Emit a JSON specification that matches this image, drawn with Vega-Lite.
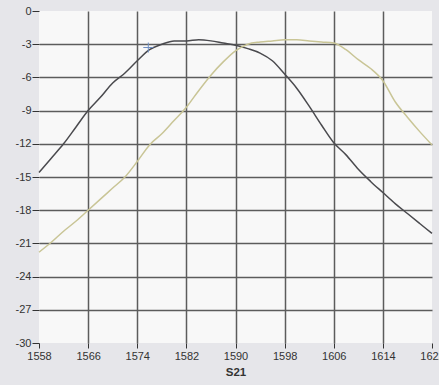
{
  "$schema": "https://vega.github.io/schema/vega-lite/v6.json",
  "width": 393,
  "height": 332,
  "autosize": "none",
  "padding": {"left": 39, "top": 11, "right": 7, "bottom": 42},
  "background": "#e6e6ea",
  "config": {"view": {"fill": "#f8f8f8", "stroke": null}, "font": "Liberation Sans"},
  "datasets": {
    "curves": [
      {"wl": 1558, "db": -14.6, "s": "A"}, {"wl": 1560, "db": -13.3, "s": "A"}, {"wl": 1562, "db": -12.0, "s": "A"},
      {"wl": 1564, "db": -10.5, "s": "A"}, {"wl": 1566, "db": -9.0, "s": "A"}, {"wl": 1568, "db": -7.8, "s": "A"},
      {"wl": 1570, "db": -6.5, "s": "A"}, {"wl": 1572, "db": -5.6, "s": "A"}, {"wl": 1574, "db": -4.5, "s": "A"},
      {"wl": 1576, "db": -3.5, "s": "A"}, {"wl": 1578, "db": -3.0, "s": "A"}, {"wl": 1580, "db": -2.7, "s": "A"},
      {"wl": 1582, "db": -2.7, "s": "A"}, {"wl": 1584, "db": -2.6, "s": "A"}, {"wl": 1586, "db": -2.7, "s": "A"},
      {"wl": 1588, "db": -2.9, "s": "A"}, {"wl": 1590, "db": -3.1, "s": "A"}, {"wl": 1592, "db": -3.4, "s": "A"},
      {"wl": 1594, "db": -3.8, "s": "A"}, {"wl": 1596, "db": -4.5, "s": "A"}, {"wl": 1598, "db": -5.7, "s": "A"},
      {"wl": 1600, "db": -7.0, "s": "A"}, {"wl": 1602, "db": -8.6, "s": "A"}, {"wl": 1604, "db": -10.3, "s": "A"},
      {"wl": 1606, "db": -11.9, "s": "A"}, {"wl": 1608, "db": -13.0, "s": "A"}, {"wl": 1610, "db": -14.3, "s": "A"},
      {"wl": 1612, "db": -15.4, "s": "A"}, {"wl": 1614, "db": -16.4, "s": "A"}, {"wl": 1616, "db": -17.4, "s": "A"},
      {"wl": 1618, "db": -18.3, "s": "A"}, {"wl": 1620, "db": -19.2, "s": "A"}, {"wl": 1622, "db": -20.1, "s": "A"},
      {"wl": 1558, "db": -21.8, "s": "B"}, {"wl": 1560, "db": -20.9, "s": "B"}, {"wl": 1562, "db": -19.9, "s": "B"},
      {"wl": 1564, "db": -19.0, "s": "B"}, {"wl": 1566, "db": -18.0, "s": "B"}, {"wl": 1568, "db": -17.0, "s": "B"},
      {"wl": 1570, "db": -16.0, "s": "B"}, {"wl": 1572, "db": -15.0, "s": "B"}, {"wl": 1574, "db": -13.6, "s": "B"},
      {"wl": 1576, "db": -12.1, "s": "B"}, {"wl": 1578, "db": -11.1, "s": "B"}, {"wl": 1580, "db": -9.9, "s": "B"},
      {"wl": 1582, "db": -8.7, "s": "B"}, {"wl": 1584, "db": -7.2, "s": "B"}, {"wl": 1586, "db": -5.8, "s": "B"},
      {"wl": 1588, "db": -4.6, "s": "B"}, {"wl": 1590, "db": -3.6, "s": "B"}, {"wl": 1592, "db": -3.0, "s": "B"},
      {"wl": 1594, "db": -2.8, "s": "B"}, {"wl": 1596, "db": -2.7, "s": "B"}, {"wl": 1598, "db": -2.6, "s": "B"},
      {"wl": 1600, "db": -2.6, "s": "B"}, {"wl": 1602, "db": -2.7, "s": "B"}, {"wl": 1604, "db": -2.8, "s": "B"},
      {"wl": 1606, "db": -2.9, "s": "B"}, {"wl": 1608, "db": -3.5, "s": "B"}, {"wl": 1610, "db": -4.4, "s": "B"},
      {"wl": 1612, "db": -5.2, "s": "B"}, {"wl": 1614, "db": -6.3, "s": "B"}, {"wl": 1616, "db": -8.2, "s": "B"},
      {"wl": 1618, "db": -9.6, "s": "B"}, {"wl": 1620, "db": -10.9, "s": "B"}, {"wl": 1622, "db": -12.1, "s": "B"}
    ],
    "marker": [{"wl": 1575.8, "db": -3.3}]
  },
  "encoding": {
    "x": {
      "field": "wl", "type": "quantitative",
      "scale": {"domain": [1558, 1622], "nice": false, "zero": false},
      "axis": {
        "values": [1558, 1566, 1574, 1582, 1590, 1598, 1606, 1614, 1622],
        "grid": true, "gridColor": "#5c5c5c", "gridWidth": 1.5,
        "gridOpacity": {"condition": {"test": "datum.value == 1558 || datum.value == 1622", "value": 0}, "value": 1},
        "domain": false, "tickColor": "#333333", "tickSize": 5,
        "labelFontSize": 11, "labelColor": "#333333", "labelPadding": 2,
        "labelFlush": false, "labelOverlap": false,
        "labelExpr": "'' + datum.value",
        "title": "S21", "titleFontSize": 11.5, "titleFontWeight": "bold", "titleColor": "#333333", "titlePadding": 5
      }
    },
    "y": {
      "field": "db", "type": "quantitative",
      "scale": {"domain": [-30, 0], "nice": false, "zero": false},
      "axis": {
        "values": [-30, -27, -24, -21, -18, -15, -12, -9, -6, -3, 0],
        "grid": true, "gridColor": "#5c5c5c", "gridWidth": 1.5,
        "gridOpacity": {"condition": {"test": "datum.value == -30 || datum.value == 0", "value": 0}, "value": 1},
        "domain": false, "tickColor": "#333333", "tickSize": 7,
        "labelFontSize": 11, "labelColor": "#333333", "labelPadding": 1,
        "labelFlush": false, "labelOverlap": false,
        "labelExpr": "'' + datum.value",
        "title": null
      }
    }
  },
  "layer": [
    {
      "data": {"name": "curves"},
      "mark": {"type": "line", "strokeWidth": 1.5, "interpolate": "monotone"},
      "encoding": {
        "color": {
          "field": "s", "type": "nominal",
          "scale": {"domain": ["A", "B"], "range": ["#4a4a4e", "#c9c596"]},
          "legend": null
        }
      }
    },
    {
      "data": {"name": "marker"},
      "mark": {"type": "point", "shape": "M-1,0L1,0M0,-1L0,1", "size": 100, "filled": false, "strokeWidth": 1, "color": "#6f8fc4", "opacity": 1}
    }
  ]
}
